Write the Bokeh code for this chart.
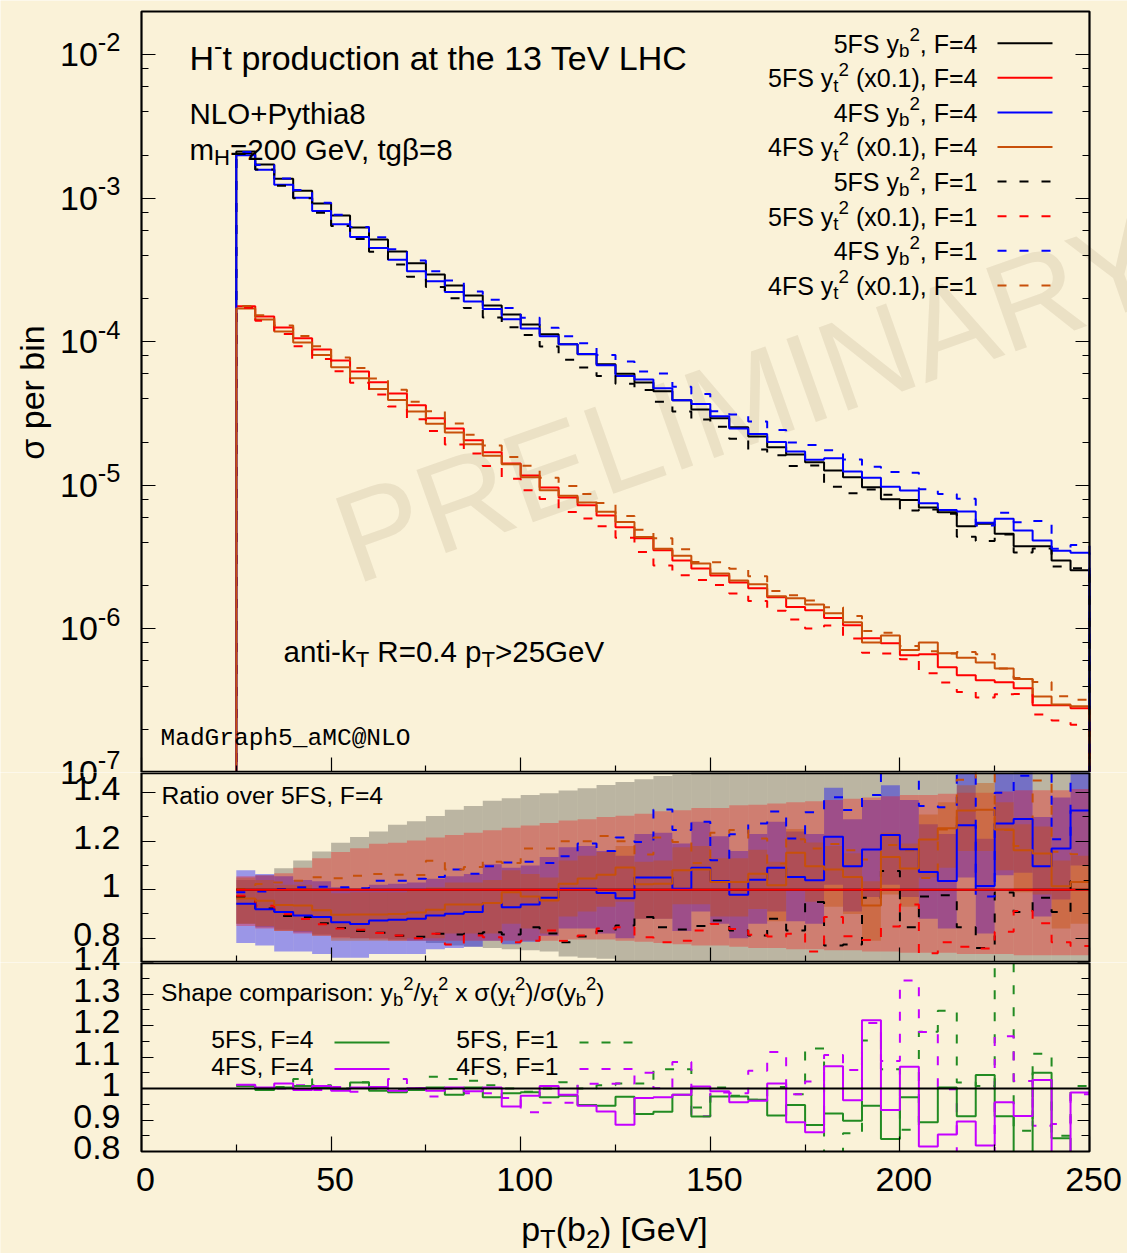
import math
from bokeh.plotting import figure
from bokeh.layouts import column
from bokeh.models import (Range1d, LinearAxis, LogAxis, FixedTicker, LogTicker, Label, Arrow,
                          BoxAnnotation, CustomJSTickFormatter)
from bokeh.embed import file_html
from bokeh.resources import INLINE

# ---------------------------------------------------------------- data
BIN_EDGES = list(range(25, 255, 5))          # 45 bins of 5 GeV, 25..250

X_TICKS = [0, 50, 100, 150, 200, 250]
X_TICK_LABELS = ["0", "50", "100", "150", "200", "250"]
X_MINOR = [25, 75, 125, 175, 225]
LOG_EXPONENTS = [-2, -3, -4, -5, -6, -7]
MID_TICKS = [0.8, 1.0, 1.2, 1.4]
MID_TICK_LABELS = ["0.8", "1", "1.2", "1.4"]
MID_MINOR = [0.7, 0.9, 1.1, 1.3]
BOT_TICKS = [0.8, 0.9, 1.0, 1.1, 1.2, 1.3, 1.4]
BOT_TICK_LABELS = ["0.8", "0.9", "1", "1.1", "1.2", "1.3", "1.4"]
BOT_MINOR = [0.85, 0.95, 1.05, 1.15, 1.25, 1.35]

# sigma per bin, 5FS y_b^2, F=4
SIGMA_5FS_YB2_F4 = [
    2.12e-3, 1.72e-3, 1.37e-3, 1.13e-3, 9.2e-4, 7.6e-4, 6.26e-4, 5.16e-4, 4.26e-4, 3.52e-4,
    2.95e-4, 2.47e-4, 2.10e-4, 1.79e-4, 1.55e-4, 1.32e-4, 1.13e-4, 9.6e-5, 8.2e-5, 6.97e-5,
    6.0e-5, 5.2e-5, 4.52e-5, 3.91e-5, 3.38e-5, 2.93e-5, 2.54e-5, 2.19e-5, 1.84e-5, 1.64e-5,
    1.45e-5, 1.27e-5, 1.14e-5, 9.7e-6, 8.0e-6, 7.9e-6, 7.0e-6, 6.5e-6, 5.2e-6, 5.4e-6,
    4.6e-6, 3.76e-6, 3.76e-6, 3.0e-6, 2.56e-6]
# sigma per bin, 5FS y_t^2 (x0.1), F=4
SIGMA_5FS_YT2_F4 = [
    1.77e-4, 1.50e-4, 1.26e-4, 1.06e-4, 8.86e-5, 7.42e-5, 6.22e-5, 5.22e-5, 4.37e-5, 3.61e-5,
    2.93e-5, 2.49e-5, 2.06e-5, 1.70e-5, 1.42e-5, 1.17e-5, 9.68e-6, 8.25e-6, 7.26e-6, 6.18e-6,
    5.10e-6, 4.28e-6, 3.53e-6, 3.00e-6, 2.64e-6, 2.36e-6, 2.11e-6, 1.92e-6, 1.66e-6, 1.42e-6,
    1.35e-6, 1.19e-6, 1.06e-6, 8.6e-7, 7.94e-7, 6.55e-7, 6.66e-7, 5.40e-7, 4.75e-7, 4.39e-7,
    4.25e-7, 3.86e-7, 2.94e-7, 2.94e-7, 2.80e-7]

# ratios over 5FS, F=4 (middle panel)
RATIO_4FS_YB2_F4 = [
    0.942, 0.919, 0.908, 0.894, 0.887, 0.866, 0.859, 0.873, 0.876, 0.880,
    0.894, 0.901, 0.908, 0.945, 0.928, 0.939, 0.967, 1.004, 1.004, 0.986,
    0.965, 1.050, 1.050, 1.004, 1.090, 1.036, 0.979, 1.041, 1.090, 1.052,
    1.039, 1.218, 1.097, 1.166, 1.225, 1.167, 1.073, 1.036, 1.266, 1.015,
    1.273, 1.291, 1.097, 1.170, 1.326]
RATIO_4FS_YT2_F4 = [
    0.964, 0.954, 0.937, 0.935, 0.915, 0.897, 0.898, 0.898, 0.900, 0.906,
    0.917, 0.939, 0.939, 0.945, 0.990, 0.972, 0.956, 1.025, 1.046, 1.062,
    1.091, 1.022, 1.025, 1.080, 1.083, 1.032, 1.032, 1.066, 1.018, 1.152,
    1.097, 1.083, 1.052, 0.935, 1.135, 1.087, 1.207, 1.253, 1.326, 1.329,
    1.248, 1.163, 1.149, 1.014, 1.032]
RATIO_5FS_YB2_F1 = [
    0.971, 0.923, 0.892, 0.887, 0.862, 0.842, 0.830, 0.823, 0.810, 0.806,
    0.818, 0.815, 0.818, 0.825, 0.815, 0.845, 0.820, 0.783, 0.807, 0.830,
    0.852, 0.887, 0.845, 0.836, 0.850, 0.873, 0.832, 0.811, 0.880, 0.832,
    0.949, 0.770, 0.774, 0.967, 1.077, 0.845, 0.972, 0.977, 0.845, 0.760,
    0.988, 0.908, 0.967, 0.908, 1.036]
RATIO_5FS_YT2_F1 = [
    0.975, 0.934, 0.899, 0.879, 0.858, 0.840, 0.835, 0.822, 0.811, 0.800,
    0.818, 0.774, 0.811, 0.804, 0.783, 0.790, 0.832, 0.790, 0.811, 0.840,
    0.845, 0.804, 0.783, 0.790, 0.832, 0.859, 0.838, 0.814, 0.807, 0.818,
    0.745, 0.887, 0.808, 0.793, 0.848, 0.939, 0.738, 0.783, 0.765, 0.758,
    0.827, 0.912, 0.862, 0.783, 0.768]
RATIO_4FS_YB2_F1 = [
    0.989, 0.993, 1.003, 1.010, 1.012, 1.010, 1.006, 1.037, 1.037, 1.045,
    1.052, 1.083, 1.066, 1.097, 1.112, 1.115, 1.110, 1.138, 1.190, 1.160,
    1.215, 1.197, 1.331, 1.246, 1.280, 1.121, 1.229, 1.273, 1.322, 1.211,
    1.319, 1.381, 1.328, 1.390, 1.550, 1.550, 1.345, 1.340, 1.550, 0.972,
    1.400, 1.470, 1.500, 1.208, 1.500]
RATIO_4FS_YT2_F1 = [
    1.003, 1.023, 1.030, 1.037, 1.051, 1.047, 1.058, 1.065, 1.062, 1.061,
    1.119, 1.083, 1.094, 1.115, 1.110, 1.170, 1.170, 1.200, 1.200, 1.221,
    1.200, 1.145, 1.215, 1.197, 1.110, 1.235, 1.246, 1.211, 1.108, 1.208,
    1.170, 1.188, 1.163, 1.124, 1.184, 1.163, 1.048, 1.248, 1.453, 1.520,
    1.246, 1.180, 1.450, 1.156, 1.146]

# uncertainty bands (ratio units), F=4 curves
BAND_5FS_YB2_LO = [
    0.860, 0.845, 0.835, 0.825, 0.815, 0.805, 0.800, 0.800, 0.795, 0.790,
    0.780, 0.770, 0.765, 0.760, 0.755, 0.750, 0.745, 0.725, 0.720, 0.715,
    0.700, 0.695, 0.690, 0.685, 0.680, 0.675, 0.670, 0.665, 0.660, 0.655,
    0.650, 0.645, 0.640, 0.635, 0.630, 0.625, 0.620, 0.615, 0.610, 0.605,
    0.600, 0.595, 0.590, 0.585, 0.580]
BAND_5FS_YB2_HI = [
    1.040, 1.060, 1.088, 1.120, 1.157, 1.193, 1.217, 1.240, 1.268, 1.282,
    1.304, 1.329, 1.345, 1.367, 1.377, 1.390, 1.397, 1.409, 1.418, 1.432,
    1.444, 1.455, 1.469, 1.475, 1.485, 1.490, 1.500, 1.510, 1.520, 1.530,
    1.540, 1.550, 1.560, 1.570, 1.580, 1.590, 1.600, 1.610, 1.620, 1.630,
    1.640, 1.650, 1.660, 1.670, 1.680]
BAND_5FS_YT2_LO = [
    0.850, 0.840, 0.830, 0.820, 0.810, 0.800, 0.800, 0.795, 0.790, 0.790,
    0.790, 0.790, 0.790, 0.790, 0.790, 0.790, 0.790, 0.795, 0.795, 0.795,
    0.790, 0.785, 0.780, 0.775, 0.770, 0.770, 0.765, 0.760, 0.760, 0.755,
    0.755, 0.750, 0.750, 0.745, 0.745, 0.740, 0.740, 0.740, 0.735, 0.735,
    0.735, 0.730, 0.730, 0.730, 0.730]
BAND_5FS_YT2_HI = [
    1.055, 1.060, 1.068, 1.090, 1.130, 1.155, 1.171, 1.189, 1.193, 1.203,
    1.215, 1.225, 1.235, 1.245, 1.255, 1.265, 1.275, 1.285, 1.290, 1.300,
    1.305, 1.313, 1.323, 1.327, 1.337, 1.337, 1.348, 1.350, 1.355, 1.360,
    1.365, 1.370, 1.375, 1.380, 1.385, 1.390, 1.390, 1.395, 1.400, 1.400,
    1.405, 1.410, 1.410, 1.410, 1.415]
BAND_4FS_YB2_LO = [
    0.780, 0.770, 0.745, 0.745, 0.735, 0.720, 0.720, 0.735, 0.735, 0.735,
    0.755, 0.760, 0.765, 0.790, 0.775, 0.785, 0.810, 0.840, 0.840, 0.820,
    0.800, 0.880, 0.880, 0.830, 0.910, 0.860, 0.800, 0.860, 0.910, 0.870,
    0.860, 1.020, 0.910, 0.970, 1.020, 0.970, 0.880, 0.840, 1.050, 0.820,
    1.060, 1.070, 0.890, 0.960, 1.100]
BAND_4FS_YB2_HI = [
    1.080, 1.065, 1.055, 1.040, 1.035, 1.010, 1.005, 1.020, 1.025, 1.030,
    1.045, 1.055, 1.065, 1.105, 1.090, 1.100, 1.135, 1.175, 1.180, 1.160,
    1.140, 1.230, 1.235, 1.190, 1.280, 1.220, 1.160, 1.230, 1.280, 1.240,
    1.230, 1.420, 1.290, 1.370, 1.430, 1.370, 1.270, 1.230, 1.480, 1.210,
    1.480, 1.500, 1.300, 1.380, 1.550]
BAND_4FS_YT2_LO = [
    0.860, 0.850, 0.830, 0.830, 0.810, 0.790, 0.790, 0.790, 0.790, 0.800,
    0.800, 0.820, 0.820, 0.820, 0.860, 0.840, 0.820, 0.890, 0.910, 0.930,
    0.950, 0.880, 0.880, 0.940, 0.940, 0.890, 0.890, 0.920, 0.870, 1.000,
    0.950, 0.930, 0.900, 0.790, 0.980, 0.930, 1.050, 1.090, 1.160, 1.160,
    1.080, 0.990, 0.980, 0.840, 0.860]
BAND_4FS_YT2_HI = [
    1.050, 1.040, 1.020, 1.020, 1.000, 0.985, 0.990, 0.990, 0.990, 1.000,
    1.010, 1.030, 1.030, 1.040, 1.080, 1.065, 1.050, 1.120, 1.140, 1.155,
    1.180, 1.115, 1.120, 1.175, 1.180, 1.130, 1.130, 1.165, 1.115, 1.250,
    1.195, 1.180, 1.150, 1.035, 1.235, 1.190, 1.310, 1.360, 1.430, 1.440,
    1.360, 1.270, 1.260, 1.120, 1.140]

# shape comparison (bottom panel)
SHAPE_5FS_F4 = [
    1.008, 0.995, 1.003, 1.008, 1.003, 0.998, 1.019, 0.993, 0.988, 0.995,
    1.003, 0.980, 1.003, 0.972, 0.985, 0.988, 0.972, 0.977, 0.948, 0.945,
    0.974, 0.919, 0.926, 0.980, 0.911, 0.975, 0.975, 0.964, 0.914, 0.948,
    0.884, 0.921, 0.898, 0.945, 0.840, 0.972, 0.893, 1.003, 0.912, 1.043,
    0.912, 0.790, 1.050, 0.842, 0.790]
SHAPE_4FS_F4 = [
    1.012, 1.003, 1.016, 0.995, 1.008, 0.993, 1.003, 1.005, 0.993, 1.001,
    0.993, 1.003, 0.991, 1.003, 0.943, 0.977, 1.008, 0.980, 0.945, 0.927,
    0.885, 0.970, 0.972, 0.980, 1.006, 0.991, 0.956, 0.961, 1.016, 0.893,
    0.861, 1.071, 0.963, 1.217, 0.932, 1.069, 0.816, 0.854, 0.895, 0.819,
    0.956, 0.913, 1.027, 0.790, 0.987]
SHAPE_5FS_F1 = [
    1.010, 1.000, 1.005, 1.030, 1.010, 1.000, 1.020, 1.005, 0.995, 1.000,
    1.037, 1.030, 1.025, 1.010, 1.000, 0.990, 1.000, 1.020, 1.000, 1.010,
    1.016, 1.016, 1.061, 1.061, 0.940, 1.003, 0.977, 0.964, 1.005, 0.982,
    1.127, 0.790, 0.858, 1.152, 1.061, 0.869, 1.180, 1.247, 1.019, 1.008,
    1.450, 0.866, 1.110, 0.850, 1.008]
SHAPE_4FS_F1 = [
    1.010, 1.000, 1.000, 1.010, 0.995, 1.005, 0.990, 1.000, 1.030, 1.000,
    0.975, 1.000, 0.985, 0.985, 0.970, 0.925, 0.955, 0.955, 1.015, 1.015,
    1.016, 1.050, 1.001, 1.084, 0.912, 0.987, 0.985, 1.056, 1.116, 0.982,
    1.022, 1.106, 1.059, 1.208, 1.087, 1.343, 1.179, 0.998, 0.790, 0.790,
    1.166, 1.024, 0.882, 0.887, 0.982]

# ---------------------------------------------------------------- style / geometry
BG = "#faf2d8"
FONT = "Liberation Sans"
MONO = "Liberation Mono"
RED = "#ff0000"
BLUE = "#0000ff"
ORANGE = "#c8500a"
GREEN = "#228b22"
MAGENTA = "#c400ff"
DASH = "9 13"

PAGE_W = 1127
FRAME_L, FRAME_R = 141, 1089
P1_T, P1_B, P2_B, P3_B, PAGE_H = 11, 772, 962, 1151, 1253
TOP_Y = (1e-7, 2e-2)
MID_Y = (0.70, 1.483)
BOT_Y = (0.80, 1.40)
LA, LB = math.log10(TOP_Y[0]), math.log10(TOP_Y[1])


def fx(px):
    return (px - FRAME_L) * 250.0 / (FRAME_R - FRAME_L)


def px_of(x):
    return FRAME_L + x * (FRAME_R - FRAME_L) / 250.0


def fy_top(py):
    return 10 ** (LA + (P1_B - py) * (LB - LA) / (P1_B - P1_T))


def py_top(v):
    return P1_B - (math.log10(v) - LA) * (P1_B - P1_T) / (LB - LA)


def fy_mid(py):
    return MID_Y[0] + (P2_B - py) * (MID_Y[1] - MID_Y[0]) / (P2_B - P1_B)


def py_mid(v):
    return P2_B - (v - MID_Y[0]) * (P2_B - P1_B) / (MID_Y[1] - MID_Y[0])


def fy_bot(py):
    return BOT_Y[0] + (P3_B - py) * (BOT_Y[1] - BOT_Y[0]) / (P3_B - P2_B)


def py_bot(v):
    return P3_B - (v - BOT_Y[0]) * (P3_B - P2_B) / (BOT_Y[1] - BOT_Y[0])


ARIAL = {' ': 278, '(': 333, ')': 333, '+': 584, ',': 278, '-': 333, '.': 278, '/': 278,
         ':': 278, '=': 584, '>': 584, '@': 1015, '[': 278, ']': 278, '_': 556,
         'A': 667, 'B': 667, 'C': 722, 'D': 722, 'E': 667, 'F': 611, 'G': 778, 'H': 722,
         'I': 278, 'J': 500, 'K': 667, 'L': 556, 'M': 833, 'N': 722, 'O': 778, 'P': 667,
         'Q': 778, 'R': 722, 'S': 667, 'T': 611, 'U': 722, 'V': 667, 'W': 944, 'X': 667,
         'Y': 667, 'Z': 611, 'a': 556, 'b': 556, 'c': 500, 'd': 556, 'e': 556, 'f': 278,
         'g': 556, 'h': 556, 'i': 222, 'j': 222, 'k': 500, 'l': 222, 'm': 833, 'n': 556,
         'o': 556, 'p': 556, 'q': 556, 'r': 333, 's': 500, 't': 278, 'u': 556, 'v': 500,
         'w': 722, 'x': 500, 'y': 500, 'z': 500, 'σ': 600, 'β': 575}


def text_w(s, size):
    return sum(ARIAL.get(c, 556) for c in s) * size / 1000.0


def rich(fig, fy, px, base_py, parts, size, align="left", color="black", font=FONT):
    """Text with sub/superscripts; base_py is the page row of the text baseline."""
    small = size * 0.75
    widths = [text_w(t, size if k == "n" else small) for t, k in parts]
    total = sum(widths)
    cur = px if align == "left" else (px - total if align == "right" else px - total / 2.0)
    cy = fy(base_py - 0.355 * size)
    for (t, k), w in zip(parts, widths):
        fs = size if k == "n" else small
        off = 0.0 if k == "n" else (0.36 * size if k == "sup" else -0.28 * size)
        lead = len(t) - len(t.lstrip(" "))
        fig.add_layout(Label(x=fx(cur + lead * 0.278 * fs), y=cy, text=t.strip(),
                             text_font=font, text_font_size=f"{fs:.1f}px", text_color=color,
                             text_align="left", text_baseline="middle", y_offset=off))
        cur += w


def plain(fig, fy, text, px, cy, size=34, align="right", font=FONT):
    fig.add_layout(Label(x=fx(px), y=fy(cy), text=text, text_font=font,
                         text_font_size=f"{size}px", text_align=align,
                         text_baseline="middle", text_color="black"))


def make_fig(top_py, bot_py, fy, log=False):
    h = bot_py - top_py
    p = figure(width=PAGE_W, height=h, frame_width=PAGE_W, frame_height=h,
               min_border=0, min_border_left=0, min_border_right=0,
               min_border_top=0, min_border_bottom=0,
               x_range=Range1d(fx(0), fx(PAGE_W)), y_range=Range1d(fy(bot_py), fy(top_py)),
               y_axis_type="log" if log else "linear",
               x_axis_location=None, y_axis_location=None,
               output_backend="svg", toolbar_location=None,
               background_fill_color=BG, border_fill_color=BG, outline_line_color=None)
    p.xgrid.visible = False
    p.ygrid.visible = False
    return p


def tick_axis(fig, cls, ticker, loc, side, major_in, minor_in):
    ax = cls(ticker=ticker, fixed_location=loc,
             formatter=CustomJSTickFormatter(code="return ''"))
    ax.major_tick_in = major_in
    ax.major_tick_out = 0
    ax.minor_tick_in = minor_in
    ax.minor_tick_out = 0
    ax.axis_line_color = None
    ax.major_tick_line_color = "black"
    ax.minor_tick_line_color = "black"
    ax.major_tick_line_width = 1.2
    ax.minor_tick_line_width = 1.2
    ax.major_label_text_font_size = "0px"
    ax.major_label_standoff = 0
    fig.add_layout(ax, side)


def panel_box(fig, lo, hi):
    fig.add_layout(BoxAnnotation(left=0, right=250, bottom=lo, top=hi, fill_color=None,
                                 fill_alpha=0, line_color="black", line_width=2.2,
                                 line_alpha=1))


def edge_line(fig, fy, py):
    """Solid frame edge where two panels meet (drawn just inside this panel)."""
    v = fy(py)
    fig.add_layout(BoxAnnotation(left=0, right=250, bottom=v, top=v, fill_color=None,
                                 fill_alpha=0, line_color="black", line_width=1.6,
                                 line_alpha=1))


def xticker():
    return FixedTicker(ticks=X_TICKS, minor_ticks=X_MINOR)


def mul(a, b):
    return [u * v for u, v in zip(a, b)]


def log_label(fig, fy, e):
    rich(fig, fy, 120, py_top(10.0 ** e) + 12, [("10", "n"), (str(e), "sup")], 34, align="right")


# ---------------------------------------------------------------- top panel
p1 = make_fig(0, P1_B, fy_top, log=True)
p1.add_layout(Label(x=fx(364), y=fy_top(610), text="PRELIMINARY", angle=math.radians(19.5),
                    text_font=FONT, text_font_size="128px", text_color="#b4a384",
                    text_alpha=0.22, level="underlay"))

top_series = [
    (SIGMA_5FS_YB2_F4, "black", None),
    (SIGMA_5FS_YT2_F4, RED, None),
    (mul(SIGMA_5FS_YB2_F4, RATIO_4FS_YB2_F4), BLUE, None),
    (mul(SIGMA_5FS_YT2_F4, RATIO_4FS_YT2_F4), ORANGE, None),
    (mul(SIGMA_5FS_YB2_F4, RATIO_5FS_YB2_F1), "black", DASH),
    (mul(SIGMA_5FS_YT2_F4, RATIO_5FS_YT2_F1), RED, DASH),
    (mul(SIGMA_5FS_YB2_F4, RATIO_4FS_YB2_F1), BLUE, DASH),
    (mul(SIGMA_5FS_YT2_F4, RATIO_4FS_YT2_F1), ORANGE, DASH),
]
FLOOR = 1e-8
for vals, col, dash in top_series:
    kw = dict(line_dash=dash) if dash else {}
    p1.step(x=[BIN_EDGES[0]] + BIN_EDGES, y=[FLOOR] + vals + [FLOOR], mode="after",
            line_color=col, line_width=2, **kw)

tick_axis(p1, LinearAxis, xticker(), TOP_Y[0], "below", 15, 7)
tick_axis(p1, LogAxis, LogTicker(), 0, "left", 14, 7)
tick_axis(p1, LogAxis, LogTicker(), 250, "right", 14, 7)
panel_box(p1, TOP_Y[0], TOP_Y[1])
edge_line(p1, fy_top, P1_B - 1)

rich(p1, fy_top, 189, 70, [("H", "n"), ("-", "sup"), ("t production at the 13 TeV LHC", "n")], 34)
rich(p1, fy_top, 189, 123, [("NLO+Pythia8", "n")], 29.5)
rich(p1, fy_top, 189, 159, [("m", "n"), ("H", "sub"), ("=200 GeV, tgβ=8", "n")], 29.5)
rich(p1, fy_top, 283, 661.5, [("anti-k", "n"), ("T", "sub"), (" R=0.4 p", "n"), ("T", "sub"),
                              (">25GeV", "n")], 29.5)
plain(p1, fy_top, "MadGraph5_aMC@NLO", 160, 738, size=24.5, align="left", font=MONO)
p1.add_layout(Label(x=fx(31), y=fy_top(392), text="σ per bin", angle=math.pi / 2,
                    text_font=FONT, text_font_size="34px", text_align="center",
                    text_baseline="middle", text_color="black"))

legend_rows = [
    ("5FS", "b", ", F=4", "black", None), ("5FS", "t", " (x0.1), F=4", RED, None),
    ("4FS", "b", ", F=4", BLUE, None), ("4FS", "t", " (x0.1), F=4", ORANGE, None),
    ("5FS", "b", ", F=1", "black", DASH), ("5FS", "t", " (x0.1), F=1", RED, DASH),
    ("4FS", "b", ", F=1", BLUE, DASH), ("4FS", "t", " (x0.1), F=1", ORANGE, DASH),
]
for i, (scheme, sub, tail, col, dash) in enumerate(legend_rows):
    rich(p1, fy_top, 977, 52.0 + 34.6 * i,
         [(scheme + " y", "n"), (sub, "sub"), ("2", "sup"), (tail, "n")], 25, align="right")
    kw = dict(line_dash=dash) if dash else {}
    ly = fy_top(42.7 + 34.6 * i)
    p1.add_layout(Arrow(x_start=fx(997), y_start=ly, x_end=fx(1052), y_end=ly, end=None,
                        line_color=col, line_width=2, **kw))

for e in LOG_EXPONENTS:
    log_label(p1, fy_top, e)

# ---------------------------------------------------------------- middle panel
p2 = make_fig(P1_B, P2_B, fy_mid)
lefts, rights = BIN_EDGES[:-1], BIN_EDGES[1:]
p2.quad(left=lefts, right=rights, bottom=BAND_5FS_YB2_LO, top=BAND_5FS_YB2_HI,
        fill_color="black", fill_alpha=0.25, line_color=None)
p2.quad(left=lefts, right=rights, bottom=BAND_4FS_YB2_LO, top=BAND_4FS_YB2_HI,
        fill_color=BLUE, fill_alpha=0.38, line_color=None)
p2.quad(left=lefts, right=rights, bottom=BAND_5FS_YT2_LO, top=BAND_5FS_YT2_HI,
        fill_color=RED, fill_alpha=0.30, line_color=None)
p2.quad(left=lefts, right=rights, bottom=BAND_4FS_YT2_LO, top=BAND_4FS_YT2_HI,
        fill_color=ORANGE, fill_alpha=0.40, line_color=None)

ones_b = [a / b for a, b in zip(SIGMA_5FS_YB2_F4, SIGMA_5FS_YB2_F4)]
ones_t = [a / b for a, b in zip(SIGMA_5FS_YT2_F4, SIGMA_5FS_YT2_F4)]
mid_series = [
    (RATIO_5FS_YB2_F1, "black", DASH), (RATIO_5FS_YT2_F1, RED, DASH),
    (RATIO_4FS_YB2_F1, BLUE, DASH), (RATIO_4FS_YT2_F1, ORANGE, DASH),
    (ones_b, "black", None), (RATIO_4FS_YB2_F4, BLUE, None),
    (RATIO_4FS_YT2_F4, ORANGE, None), (ones_t, RED, None),
]
for vals, col, dash in mid_series:
    kw = dict(line_dash=dash) if dash else {}
    p2.step(x=BIN_EDGES, y=vals + [vals[-1]], mode="after", line_color=col, line_width=2, **kw)

tick_axis(p2, LinearAxis, xticker(), MID_Y[0], "below", 15, 7)
tick_axis(p2, LinearAxis, FixedTicker(ticks=MID_TICKS, minor_ticks=MID_MINOR), 0, "left", 14, 7)
tick_axis(p2, LinearAxis, FixedTicker(ticks=MID_TICKS, minor_ticks=MID_MINOR), 250, "right", 14, 7)
panel_box(p2, MID_Y[0], MID_Y[1])
edge_line(p2, fy_mid, P1_B + 1)
edge_line(p2, fy_mid, P2_B - 1)

rich(p2, fy_mid, 161, 804, [("Ratio over 5FS, F=4", "n")], 24.7)
for v, t in zip(MID_TICKS, MID_TICK_LABELS):
    plain(p2, fy_mid, t, 120, py_mid(v) - 4)
log_label(p2, fy_mid, LOG_EXPONENTS[-1])            # lower part of the straddling 10^-7
plain(p2, fy_mid, BOT_TICK_LABELS[-1], 120, py_bot(BOT_TICKS[-1]) - 4)   # upper part of 1.4

# ---------------------------------------------------------------- bottom panel
p3 = make_fig(P2_B, PAGE_H, fy_bot)
p3.add_layout(BoxAnnotation(left=0, right=250, bottom=1.0, top=1.0, fill_color=None,
                            fill_alpha=0, line_color="black", line_width=1.8, line_alpha=1))
bot_series = [
    (SHAPE_5FS_F1, GREEN, DASH), (SHAPE_4FS_F1, MAGENTA, DASH),
    (SHAPE_5FS_F4, GREEN, None), (SHAPE_4FS_F4, MAGENTA, None),
]
for vals, col, dash in bot_series:
    kw = dict(line_dash=dash) if dash else {}
    p3.step(x=BIN_EDGES, y=vals + [vals[-1]], mode="after", line_color=col, line_width=2, **kw)

# mask everything drawn below the panel
p3.add_layout(BoxAnnotation(left=fx(0), right=fx(PAGE_W), bottom=fy_bot(PAGE_H + 5),
                            top=BOT_Y[0], fill_color=BG, fill_alpha=1.0, line_color=None))
tick_axis(p3, LinearAxis, xticker(), BOT_Y[0], "below", 15, 7)
tick_axis(p3, LinearAxis, FixedTicker(ticks=BOT_TICKS, minor_ticks=BOT_MINOR), 0, "left", 12, 8)
tick_axis(p3, LinearAxis, FixedTicker(ticks=BOT_TICKS, minor_ticks=BOT_MINOR), 250, "right", 12, 8)
panel_box(p3, BOT_Y[0], BOT_Y[1])
edge_line(p3, fy_bot, P2_B + 1)

rich(p3, fy_bot, 160.5, 1000.5,
     [("Shape comparison: y", "n"), ("b", "sub"), ("2", "sup"), ("/y", "n"), ("t", "sub"),
      ("2", "sup"), (" x σ(y", "n"), ("t", "sub"), ("2", "sup"), (")/σ(y", "n"), ("b", "sub"),
      ("2", "sup"), (")", "n")], 24.7)
for label, px, py, col, dash in [("5FS, F=4", 313, 1048, GREEN, None),
                                 ("4FS, F=4", 313, 1074.5, MAGENTA, None),
                                 ("5FS, F=1", 558, 1048, GREEN, DASH),
                                 ("4FS, F=1", 558, 1074.5, MAGENTA, DASH)]:
    rich(p3, fy_bot, px, py, [(label, "n")], 24.7, align="right")
    kw = dict(line_dash=dash) if dash else {}
    ly = fy_bot(py - 6)
    p3.add_layout(Arrow(x_start=fx(px + 21), y_start=ly, x_end=fx(px + 76), y_end=ly, end=None,
                        line_color=col, line_width=2, **kw))
for v, t in zip(BOT_TICKS, BOT_TICK_LABELS):
    plain(p3, fy_bot, t, 120, py_bot(v) - 4)
for v, t in zip(X_TICKS, X_TICK_LABELS):
    plain(p3, fy_bot, t, px_of(v) + 4, 1179, align="center")
rich(p3, fy_bot, 614, 1241, [("p", "n"), ("T", "sub"), ("(b", "n"), ("2", "sub"), (") [GeV]", "n")],
     34, align="center")

layout = column(p1, p2, p3)
open("out.html", "w").write(file_html(layout, INLINE))
